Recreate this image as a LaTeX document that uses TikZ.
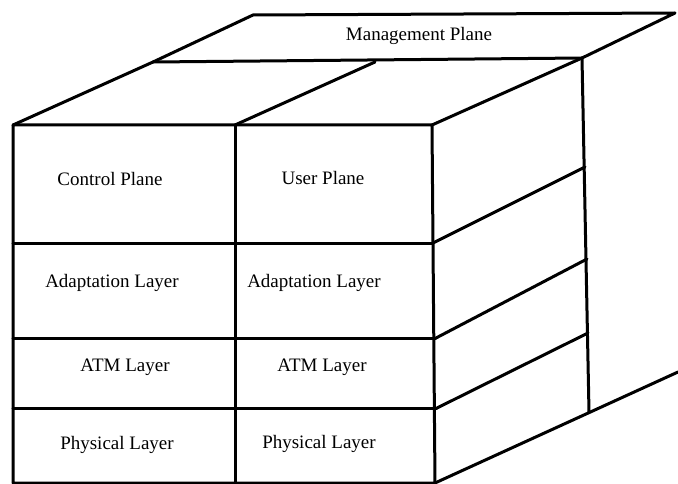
\documentclass[tikz,border=0pt]{standalone}
\usepackage{fontspec}
\setmainfont{Liberation Serif}
\begin{document}
\begin{tikzpicture}[x=1pt,y=-1pt,
  edge/.style={line width=3pt,line cap=round,line join=round},
  lbl/.style={inner sep=0pt,font=\fontsize{19}{22}\selectfont}]
\useasboundingbox (0,0) rectangle (678,484);

% front face corners and column divider
\coordinate (FTL) at (13,125);
\coordinate (FTR) at (432,125);
\coordinate (FBR) at (435,483);
\coordinate (FBL) at (13,483);
\coordinate (MT) at (235,125);
\coordinate (MB) at (235,483);

% layer boundaries on the front face
\coordinate (L1a) at (13,243);  \coordinate (L1b) at (433,243);
\coordinate (L2a) at (13,338);  \coordinate (L2b) at (436,338);
\coordinate (L3a) at (13,408);  \coordinate (L3b) at (437,408);

% top face: planes and management plane slab
\coordinate (TB1) at (153,62);
\coordinate (TB2) at (253,15);
\coordinate (TR2) at (675,13);
\coordinate (TR1) at (582,58);
\coordinate (MD) at (375,62);

% right face: back edge and layer slants
\coordinate (RB) at (589,412);
\coordinate (S1) at (585,167);
\coordinate (S2) at (587,259);
\coordinate (S3) at (588,333);
\coordinate (S4) at (678,372);

% front face
\draw[edge] (FTL) -- (FTR) -- (FBR) -- (FBL) -- cycle;
\draw[edge] (MT) -- (MB);
\draw[edge] (L1a) -- (L1b);
\draw[edge] (L2a) -- (L2b);
\draw[edge] (L3a) -- (L3b);

% top face
\draw[edge] (FTL) -- (TB1) -- (TB2) -- (TR2) -- (TR1) -- (FTR);
\draw[edge] (TB1) -- (TR1);
\draw[edge] (MT) -- (MD);

% right face
\draw[edge] (TR1) -- (RB);
\draw[edge] (L1b) -- (S1);
\draw[edge] (L2b) -- (S2);
\draw[edge] (L3b) -- (S3);
\draw[edge] (FBR) -- (S4);

% labels
\node[lbl] (mgmt) at (419,36) {Management Plane};
\node[lbl] (ctrl) at (110,179) {Control Plane};
\node[lbl] (user) at (323,178) {User Plane};
\node[lbl] (aal1) at (112,283) {Adaptation Layer};
\node[lbl] (aal2) at (314,283) {Adaptation Layer};
\node[lbl] (atm1) at (125,367) {ATM Layer};
\node[lbl] (atm2) at (322,367) {ATM Layer};
\node[lbl] (phy1) at (117,445) {Physical Layer};
\node[lbl] (phy2) at (319,444) {Physical Layer};
\end{tikzpicture}
\end{document}
